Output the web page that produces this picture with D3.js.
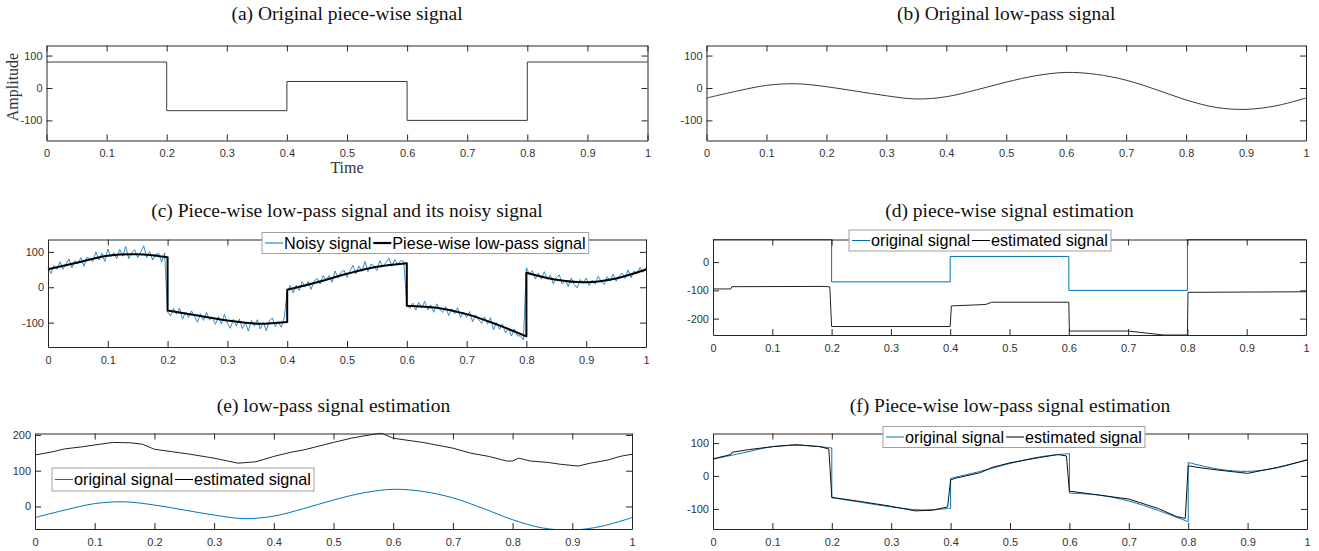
<!DOCTYPE html>
<html lang="en">
<head>
<meta charset="UTF-8">
<title>Piece-wise low-pass signal estimation</title>
<script src="https://d3js.org/d3.v7.min.js"></script>
<style>
  body { margin: 0; background: #fff; }
  svg { display: block; }
</style>
</head>
<body>
<script>
const width = 1319
const height = 551

// ---------- data ----------
const xTicks = [0, 0.1, 0.2, 0.3, 0.4, 0.5, 0.6, 0.7, 0.8, 0.9, 1]

// (a) piece-wise constant signal
const pwBreaks = [0, 0.2, 0.4, 0.6, 0.8, 1]
const pwLevels = [80, -70, 20, -100, 80, 80]

// (b) low-pass signal
const lpTime = [0, 0.05, 0.1, 0.15, 0.2, 0.25, 0.3, 0.35, 0.4, 0.45, 0.5,
                0.55, 0.6, 0.65, 0.7, 0.75, 0.8, 0.85, 0.9, 0.95, 1]
const lpValues = [-31, -10, 8, 13, 4, -10, -24, -34, -27, -6, 18,
                  38, 48, 42, 24, -5, -37, -60, -66, -55, -31]

// (c) piece-wise low-pass signal, one list per piece
const pwlpTimes = [
  [0, 0.05, 0.1, 0.15, 0.2],
  [0.2, 0.25, 0.3, 0.35, 0.4],
  [0.4, 0.45, 0.5, 0.55, 0.6],
  [0.6, 0.65, 0.7, 0.75, 0.8],
  [0.8, 0.85, 0.9, 0.95, 1]
]
const pwlpValues = [
  [51, 70, 89, 93, 85],
  [-66, -80, -94, -103, -98],
  [-7, 14, 38, 58, 68],
  [-52, -58, -76, -105, -139],
  [41, 21, 14, 25, 50]
]

// (c) noisy signal, sampled every 0.005
const noisyStep = 0.005
const noisyValues = [
  54, 39, 61, 51, 72, 51, 65, 80, 55, 75, 67, 84, 59, 85, 80, 72, 100, 77, 96, 73,
  108, 87, 98, 81, 107, 88, 115, 81, 98, 106, 84, 99, 117, 84, 101, 77, 92, 96, 71, 97,
  -70, -81, -60, -76, -59, -90, -70, -85, -67, -82, -99, -75, -94, -71, -92, -86, -105, -83, -104, -77,
  -102, -116, -91, -109, -90, -117, -99, -124, -94, -110, -92, -118, -99, -123, -95, -87, -111, -97, -113, -87,
  -13, 5, -16, 6, -9, 16, 1, 16, -6, 18, 25, 9, 33, 19, 33, 14, 46, 26, 42, 48,
  28, 46, 62, 38, 60, 45, 73, 44, 65, 61, 47, 75, 58, 70, 82, 59, 78, 64, 76, 72,
  -49, -60, -45, -64, -43, -58, -40, -64, -50, -71, -47, -63, -71, -55, -80, -61, -75, -58, -85, -70,
  -85, -69, -98, -78, -91, -102, -84, -104, -86, -120, -100, -119, -104, -129, -115, -138, -118, -138, -137, -149,
  55, 36, 47, 23, 40, 23, 44, 22, 34, 10, 27, 35, 9, 20, 2, 26, 8, -2, 22, 11,
  26, 5, 20, 9, 31, 16, 8, 30, 17, 37, 17, 31, 40, 25, 49, 27, 46, 38, 56, 42,
  55
]

// (d) estimated piece-wise signal
const estPwTime = [0, 0.03, 0.032, 0.19, 0.197, 0.2, 0.4, 0.402, 0.46, 0.47, 0.6, 0.601, 0.7, 0.76, 0.8, 0.801, 1]
const estPwValues = [-95, -95, -87, -86, -88, -228, -228, -155, -150, -142, -142, -244, -244, -258, -258, -107, -105]

// (e) estimated low-pass signal
const estLpTime = [0, 0.03, 0.05, 0.08, 0.1, 0.13, 0.16, 0.18, 0.2, 0.23, 0.26, 0.3, 0.34, 0.37, 0.4, 0.43,
                   0.45, 0.5, 0.53, 0.55, 0.58, 0.6, 0.62, 0.65, 0.7, 0.73, 0.76, 0.79, 0.8, 0.81, 0.83,
                   0.86, 0.88, 0.91, 0.93, 0.96, 0.98, 1]
const estLpValues = [144, 153, 161, 167, 172, 179, 178, 174, 160, 153, 146, 135, 121, 125, 140, 152,
                     158, 179, 191, 197, 205, 191, 186, 179, 163, 149, 140, 127, 127, 135, 127,
                     123, 118, 113, 121, 130, 140, 146]

// (f) estimated piece-wise low-pass signal
const estPwlpTime = [0, 0.03, 0.032, 0.06, 0.1, 0.14, 0.18, 0.195, 0.2, 0.25, 0.3, 0.34, 0.37, 0.395,
                     0.4, 0.41, 0.45, 0.47, 0.5, 0.55, 0.58, 0.595, 0.6, 0.65, 0.7, 0.75, 0.78, 0.795,
                     0.8, 0.82, 0.85, 0.9, 0.95, 1]
const estPwlpValues = [52, 65, 72, 80, 89, 95, 89, 82, -65, -78, -92, -106, -104, -94,
                       -12, -6, 10, 26, 40, 56, 65, 61, -46, -58, -70, -99, -123, -129,
                       31, 25, 18, 8, 26, 48]

// ---------- layout ----------
const BLUE = "#0072BD"
const AXIS = "#262626"
const serif = "'Liberation Serif', 'Times New Roman', serif"
const sans = "'Liberation Sans', Arial, Helvetica, sans-serif"

const panels = [
  {id: "a", title: "(a) Original piece-wise signal", x0: 46.5, x1: 647.5, y0: 45.5, y1: 140.5, yDomain: [-162, 131], yTicks: [-100, 0, 100], titleY: 19.5},
  {id: "b", title: "(b) Original low-pass signal", x0: 706.5, x1: 1306, y0: 45.5, y1: 140.5, yDomain: [-162, 131], yTicks: [-100, 0, 100], titleY: 19.5},
  {id: "c", title: "(c) Piece-wise low-pass signal and its noisy signal", x0: 48, x1: 646, y0: 239.5, y1: 347, yDomain: [-169, 135], yTicks: [-100, 0, 100], titleY: 216.5},
  {id: "d", title: "(d) piece-wise signal estimation", x0: 713, x1: 1306, y0: 239.5, y1: 335, yDomain: [-258, 80], yTicks: [-200, -100, 0], titleY: 216.5},
  {id: "e", title: "(e) low-pass signal estimation", x0: 35, x1: 632, y0: 433.5, y1: 529, yDomain: [-63, 204], yTicks: [0, 100, 200], titleY: 411.5},
  {id: "f", title: "(f) Piece-wise low-pass signal estimation", x0: 713, x1: 1307, y0: 433.5, y1: 529, yDomain: [-161, 129], yTicks: [-100, 0, 100], titleY: 411.5}
]

const svg = d3.select("body").append("svg")
  .attr("width", width)
  .attr("height", height)
  .attr("viewBox", `0 0 ${width} ${height}`)

const defs = svg.append("defs")
const P = {}

panels.forEach(p => {
  const x = d3.scaleLinear().domain([0, 1]).range([p.x0, p.x1])
  const y = d3.scaleLinear().domain(p.yDomain).range([p.y1, p.y0])

  defs.append("clipPath").attr("id", "clip-" + p.id)
    .append("rect")
    .attr("x", p.x0 - 1).attr("y", p.y0 - 1)
    .attr("width", p.x1 - p.x0 + 2).attr("height", p.y1 - p.y0 + 2)

  const g = svg.append("g").attr("class", "panel-" + p.id)

  svg.append("text")
    .attr("x", (p.x0 + p.x1) / 2).attr("y", p.titleY)
    .attr("text-anchor", "middle")
    .attr("font-family", serif).attr("font-size", 19.5)
    .attr("fill", "#111")
    .text(p.title)

  const plot = g.append("g").attr("clip-path", `url(#clip-${p.id})`)
  const axes = g.append("g")

  const fmt = d => String(d)
  axes.append("g").attr("transform", `translate(0,${p.y1})`)
    .call(d3.axisBottom(x).tickValues(xTicks).tickFormat(fmt).tickSizeInner(-6).tickSizeOuter(0).tickPadding(9))
  axes.append("g").attr("transform", `translate(0,${p.y0})`)
    .call(d3.axisTop(x).tickValues(xTicks).tickFormat("").tickSizeInner(-6).tickSizeOuter(0))
  axes.append("g").attr("transform", `translate(${p.x0},0)`)
    .call(d3.axisLeft(y).tickValues(p.yTicks).tickFormat(fmt).tickSizeInner(-6).tickSizeOuter(0).tickPadding(4))
  axes.append("g").attr("transform", `translate(${p.x1},0)`)
    .call(d3.axisRight(y).tickValues(p.yTicks).tickFormat("").tickSizeInner(-6).tickSizeOuter(0))

  axes.selectAll(".domain, .tick line").attr("stroke", AXIS).attr("stroke-width", 1)
  axes.selectAll(".tick text").attr("fill", "#333").attr("font-family", sans).attr("font-size", 11)

  P[p.id] = {x, y, plot}
})

function linePath(p, xs, ys, curve) {
  const gen = d3.line().x(d => p.x(d[0])).y(d => p.y(d[1]))
  if (curve) gen.curve(curve)
  return gen(xs.map((t, i) => [t, ys[i]]))
}

// piece-wise smooth path: smooth pieces joined by vertical jumps
function piecewisePath(p, times, values) {
  return times.map((ts, i) => {
    const s = linePath(p, ts, values[i], d3.curveCatmullRom)
    return i === 0 ? s : "L" + s.slice(1)
  }).join("")
}

function draw(p, d, color, w) {
  p.plot.append("path").attr("d", d)
    .attr("fill", "none").attr("stroke", color).attr("stroke-width", w)
    .attr("stroke-linejoin", "round")
}

// (a)
{
  const p = P.a
  draw(p, linePath(p, pwBreaks, pwLevels, d3.curveStepAfter), "#3a3a3a", 1)
  svg.append("text").attr("x", 347).attr("y", 173).attr("text-anchor", "middle")
    .attr("font-family", serif).attr("font-size", 16).attr("fill", "#333").text("Time")
  svg.append("text").attr("transform", "translate(18,87) rotate(-90)").attr("text-anchor", "middle")
    .attr("font-family", serif).attr("font-size", 16).attr("fill", "#333").text("Amplitude")
}
// (b)
{
  const p = P.b
  draw(p, linePath(p, lpTime, lpValues, d3.curveCatmullRom), "#3a3a3a", 1)
}
// (c)
{
  const p = P.c
  const nt = noisyValues.map((v, i) => i * noisyStep)
  draw(p, linePath(p, nt, noisyValues), BLUE, 0.8)
  draw(p, piecewisePath(p, pwlpTimes, pwlpValues), "#000", 2)
}
// (d)
{
  const p = P.d
  draw(p, linePath(p, pwBreaks, pwLevels, d3.curveStepAfter), BLUE, 1)
  draw(p, linePath(p, estPwTime, estPwValues), "#222", 1)
}
// (e)
{
  const p = P.e
  draw(p, linePath(p, lpTime, lpValues, d3.curveCatmullRom), BLUE, 1)
  draw(p, linePath(p, estLpTime, estLpValues), "#222", 1)
}
// (f)
{
  const p = P.f
  draw(p, piecewisePath(p, pwlpTimes, pwlpValues), BLUE, 1)
  draw(p, linePath(p, estPwlpTime, estPwlpValues), "#111", 1)
}

// ---------- legends ----------
function legend(x, y, h, items) {
  const lg = svg.append("g").attr("transform", `translate(${x},${y})`)
  const box = lg.append("rect").attr("fill", "#fff").attr("stroke", "#a0a0a0").attr("stroke-width", 1)
  let cx = 3
  items.forEach(it => {
    lg.append("line").attr("x1", cx).attr("x2", cx + 18).attr("y1", h / 2).attr("y2", h / 2)
      .attr("stroke", it.color).attr("stroke-width", it.w)
    cx += 19
    const t = lg.append("text").attr("x", cx).attr("y", h / 2).attr("dy", "0.35em")
      .attr("font-family", sans).attr("font-size", 16.2).attr("fill", "#000").text(it.label)
    cx += t.node().getComputedTextLength() + 2
  })
  box.attr("width", cx + 1).attr("height", h)
}

legend(262, 232.5, 21, [
  {label: "Noisy signal", color: BLUE, w: 1},
  {label: "Piese-wise low-pass signal", color: "#000", w: 2.2}
])
legend(849, 230, 21, [
  {label: "original signal", color: BLUE, w: 1},
  {label: "estimated signal", color: "#000", w: 1}
])
legend(52, 468, 23, [
  {label: "original signal", color: BLUE, w: 1},
  {label: "estimated signal", color: "#000", w: 1}
])
legend(883, 426.5, 21, [
  {label: "original signal", color: BLUE, w: 1},
  {label: "estimated signal", color: "#000", w: 1}
])
</script>
</body>
</html>
